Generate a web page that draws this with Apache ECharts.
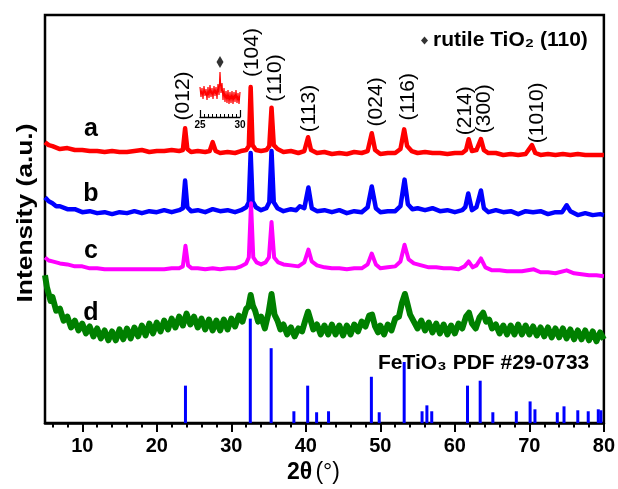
<!DOCTYPE html>
<html>
<head>
<meta charset="utf-8">
<script src="https://cdn.jsdelivr.net/npm/echarts@6/dist/echarts.min.js"></script>
<style>
html, body { margin: 0; padding: 0; background: #fff; }
#chart { width: 618px; height: 489px; }
</style>
</head>
<body>
<div id="chart"></div>
<script>
// XRD patterns, [2theta, intensity (a.u., offset)]
const traceA = [[5,285],[5.5,282],[6,281],[7,278],[8,279],[9,277],[10,277],[11,276],[12,276],[13,275],[14,276],[15,275],[16,275],[17,276],[18,277],[19,275],[20,276],[21,276],[22,277],[23,276],[23.5,277],[23.8,299],[24.1,278],[24.6,275],[25.5,276],[26.5,275],[27.1,276],[27.5,285],[27.9,276],[28.5,274],[29.5,275],[30.5,274],[31.3,276],[32.0,277],[32.35,281],[32.6,341],[32.85,282],[33.3,277],[34.0,276],[34.7,277],[35.1,281],[35.4,320],[35.7,282],[36.2,278],[37,275],[38,276],[39,274],[39.8,276],[40.3,290],[40.7,277],[41.5,274],[42.5,275],[43.5,273],[44.5,274],[45.5,273],[46.5,275],[47.5,274],[48.3,276],[48.85,294],[49.3,277],[50,273],[51,274],[52,274],[52.7,278],[53.2,298],[53.6,281],[54.2,276],[55,274],[56,275],[57,274],[58,274],[59,273],[60,274],[61,274],[61.5,277],[61.85,288],[62.3,276],[62.9,277],[63.5,288],[63.9,277],[64.5,274],[65.5,274],[66.5,272],[67.5,273],[68.5,272],[69.5,273],[70.35,282],[70.8,274],[71.5,272],[72.5,273],[73.5,272],[74.5,273],[75.5,272],[76.5,273],[77.5,272],[78.5,272],[79.5,272],[80,272]]

const traceB = [[5,229],[5.5,225],[6,223],[6.5,220],[7,220],[8,217],[9,217],[10,214],[11,215],[12,213],[13,214],[14,212],[15,214],[16,213],[17,215],[18,213],[19,215],[20,214],[21,216],[22,214],[23,216],[23.5,218],[23.8,246],[24.1,219],[24.6,215],[25.5,216],[26.5,214],[27.5,217],[28.5,215],[29.5,216],[30.5,214],[31.3,216],[32.0,219],[32.35,224],[32.6,274],[32.85,225],[33.3,219],[34.0,216],[34.7,218],[35.1,224],[35.4,276],[35.7,224],[36.2,218],[37,215],[38,217],[38.7,216],[39.2,220],[39.8,218],[40.35,239],[40.8,218],[41.5,215],[42.5,216],[43.5,214],[44.5,216],[45.5,213],[46.5,215],[47.5,214],[48.3,219],[48.85,240],[49.4,218],[50,214],[51,215],[52,215],[52.7,220],[53.25,247],[53.7,222],[54.3,217],[55,218],[56,216],[57,218],[58,215],[59,216],[60,214],[61,216],[61.4,219],[61.8,233],[62.3,216],[62.9,219],[63.5,236],[63.9,218],[64.5,214],[65.5,216],[66.5,214],[67.5,215],[68.5,212],[69.5,215],[70.5,214],[71.5,215],[72.5,212],[73.5,214],[74.4,214],[75,221],[75.5,215],[76.5,211],[77.5,213],[78.5,211],[79.5,212],[80,211]]

const traceC = [[5,168],[5.5,165],[6,164],[7,162],[8,161],[9,159],[10,159],[11,157],[12,157],[13,156],[14,156],[15,156],[16,156],[17,156],[18,156],[19,156],[20,156],[21,156],[22,157],[23,157],[23.5,159],[23.85,180],[24.2,160],[24.7,157],[25.5,157],[26.5,156],[27.5,157],[28.5,156],[29.5,157],[30.5,157],[31.3,159],[32.0,162],[32.35,168],[32.65,223],[32.95,168],[33.4,163],[34.0,161],[34.6,163],[35.05,168],[35.4,204],[35.75,168],[36.3,163],[37,161],[38,160],[39,159],[39.8,163],[40.35,176],[40.8,164],[41.5,160],[42.5,158],[43.5,157],[44.5,157],[45.5,156],[46.5,157],[47.5,157],[48.3,161],[48.85,172],[49.4,161],[50,157],[51,158],[52,159],[52.7,164],[53.25,181],[53.8,166],[54.5,162],[55.5,160],[56.5,158],[57.5,158],[58.5,157],[59.5,157],[60.5,156],[61.3,159],[61.85,164],[62.4,158],[62.9,160],[63.5,167],[64.1,158],[65,155],[66,155],[67,154],[68,154],[69,154],[70.6,156],[71.5,153],[72.5,153],[73.5,152],[75,155],[76,152],[77,151],[78,150],[79,150],[80,149]]

const traceD = [[5,150],[5.25,138],[5.5,136],[5.75,124],[6,128],[6.5,114],[7,116],[7.5,104],[8,108],[8.5,97],[9,104],[9.5,94],[10,101],[10.5,91],[11,98],[11.5,88],[12,96],[12.5,86],[13,94],[13.5,84],[14,93],[14.5,84],[15,95],[15.5,85],[16,96],[16.5,86],[17,97],[17.5,88],[18,99],[18.5,89],[19,101],[19.5,91],[20,102],[20.5,93],[21,104],[21.5,95],[22,106],[22.5,97],[23,108],[23.5,99],[24,111],[24.5,100],[25,108],[25.5,97],[26,106],[26.5,95],[27,105],[27.5,94],[28,104],[28.5,94],[29,105],[29.5,95],[30,106],[30.5,98],[31,109],[31.5,103],[32,116],[32.3,118],[32.6,130],[32.9,119],[33.2,114],[33.6,103],[34,108],[34.5,96],[35,112],[35.4,131],[35.8,110],[36.2,104],[36.6,95],[37,100],[37.5,90],[38,97],[38.5,88],[39,96],[39.5,93],[40,106],[40.3,113],[40.7,103],[41,95],[41.5,100],[42,90],[42.5,99],[43,90],[43.5,100],[44,90],[44.5,99],[45,89],[45.5,99],[46,90],[46.5,100],[47,93],[47.5,103],[48,98],[48.5,109],[48.9,110],[49.3,98],[49.7,92],[50,99],[50.5,90],[51,100],[51.5,94],[52,106],[52.5,108],[52.9,122],[53.3,131],[53.6,122],[54,110],[54.5,103],[55,96],[55.5,104],[56,94],[56.5,102],[57,92],[57.5,101],[58,91],[58.5,100],[59,90],[59.5,99],[60,91],[60.5,101],[61,96],[61.5,108],[61.9,112],[62.3,101],[62.8,96],[63.3,107],[63.8,112],[64.2,103],[64.6,105],[65,96],[65.5,100],[66,91],[66.5,99],[67,90],[67.5,99],[68,90],[68.5,100],[69,90],[69.5,99],[70,90],[70.5,98],[71,89],[71.5,97],[72,88],[72.5,97],[73,87],[73.5,96],[74,87],[74.5,96],[75,86],[75.5,95],[76,85],[76.5,94],[77,85],[77.5,94],[78,84],[78.5,93],[79,83],[79.5,92],[80,85]]

// FeTiO3 PDF #29-0733 reference lines
const pdfSticks = [[23.85,38],[32.55,106],[35.35,76],[38.4,12],[40.25,38],[41.45,11],[43.05,12],[48.8,47],[49.85,11],[53.2,62],[55.6,12],[56.25,18],[56.9,12],[61.7,38],[63.4,43],[65.1,11],[68.25,12],[70.1,22],[70.75,14],[73.75,11],[74.65,17],[76.5,13],[77.9,12],[79.25,14],[79.6,13]]

// inset: 25-30 deg of sample a
const insetTrace = [[25,30],[25.125,20],[25.25,29],[25.375,18],[25.5,31],[25.625,21],[25.75,28],[25.875,17],[26,30],[26.125,19],[26.25,32],[26.375,20],[26.5,29],[26.625,18],[26.75,31],[26.875,21],[27,30],[27.125,18],[27.25,33],[27.375,22],[27.5,45],[27.625,24],[27.75,34],[27.875,17],[28,29],[28.125,15],[28.25,26],[28.375,14],[28.5,27],[28.625,13],[28.75,25],[28.875,14],[29,26],[29.125,13],[29.25,25],[29.375,15],[29.5,27],[29.625,14],[29.75,24],[29.875,13],[30,25]]
const rutileMark = [[27.5, 55]]

// hkl labels: [text, 2theta, intensity at label foot]
const peakLabels = [['(012)',23.6,307],['(104)',32.86,351],['(110)',35.94,326],['(113)',40.49,295],['(024)',49.45,301],['(116)',53.75,307],['(214)',61.45,292],['(300)',64.0,294],['(1010)',71.1,284]]

const majorTicks = [10,20,30,40,50,60,70,80]
const minorTicks = [6,8,12,14,16,18,22,24,26,28,32,34,36,38,42,44,46,48,52,54,56,58,62,64,66,68,72,74,76,78]

const sampleNames = ['a','b','c','d']
const sampleColors = ['#ff0000','#0000ff','#ff00ff','#008000']
const sampleWidths = [4.5, 4.5, 4, 6]

const FONT = '"Liberation Sans", Arial, sans-serif'
const chart = echarts.init(document.getElementById('chart'))

const lineSeries = [traceA, traceB, traceC, traceD].map((data, i) => ({
    name: sampleNames[i],
    type: 'line',
    data,
    symbol: 'none',
    xAxisIndex: 0,
    yAxisIndex: 0,
    lineStyle: { color: sampleColors[i], width: sampleWidths[i], join: 'round' }
}))

chart.setOption({
    animation: false,
    grid: [
        { left: 45, right: 13, top: 15, bottom: 60, show: true, borderColor: '#000', borderWidth: 2.5 },
        { left: 200, top: 57, width: 40, height: 60 }
    ],
    legend: {
        data: [{ name: 'rutile TiO₂ (110)', icon: 'diamond' }],
        left: 421,
        top: 30,
        padding: 0,
        itemWidth: 7,
        itemHeight: 8,
        selectedMode: false,
        textStyle: { fontFamily: FONT, fontWeight: 'bold', fontSize: 21, color: '#000' }
    },
    xAxis: [
        {
            type: 'value', gridIndex: 0, position: 'bottom', min: 5, max: 80,
            axisLine: { show: true, lineStyle: { color: '#000', width: 2.5 } },
            axisTick: { show: true, customValues: majorTicks, length: 9, lineStyle: { color: '#000', width: 2 } },
            axisLabel: { customValues: majorTicks, color: '#000', fontFamily: FONT, fontWeight: 'bold', fontSize: 20, margin: 13 },
            splitLine: { show: false },
            name: '{b|2θ} {r|(°)}',
            nameLocation: 'middle',
            nameGap: 33,
            nameTextStyle: {
                padding: [0, 22, 0, 0],
                rich: {
                    b: { fontFamily: FONT, fontWeight: 'bold', fontSize: 23, color: '#000' },
                    r: { fontFamily: FONT, fontSize: 23, color: '#000' }
                }
            }
        },
        {
            type: 'value', gridIndex: 0, position: 'bottom', offset: 0, min: 5, max: 80,
            axisLine: { show: false },
            axisTick: { show: true, customValues: minorTicks, length: 4.5, lineStyle: { color: '#000', width: 2 } },
            axisLabel: { show: false },
            splitLine: { show: false }
        },
        {
            type: 'value', gridIndex: 1, min: 25, max: 30, interval: 5,
            axisLine: { lineStyle: { color: '#000', width: 1.3 } },
            axisTick: { inside: true, length: 7, lineStyle: { color: '#000', width: 1.2 } },
            minorTick: { show: true, splitNumber: 10, length: 3, lineStyle: { color: '#000', width: 1 } },
            axisLabel: { color: '#000', fontFamily: FONT, fontWeight: 'bold', fontSize: 10, margin: 3 },
            splitLine: { show: false }
        }
    ],
    yAxis: [
        { type: 'value', gridIndex: 0, min: 0, max: 414, axisLine: { show: false }, axisTick: { show: false }, axisLabel: { show: false }, splitLine: { show: false } },
        { type: 'value', gridIndex: 1, min: 0, max: 60, show: false, splitLine: { show: false } }
    ],
    series: [
        ...lineSeries,
        {
            name: 'PDF 29-0733',
            type: 'bar',
            xAxisIndex: 0,
            yAxisIndex: 0,
            data: pdfSticks,
            barWidth: 3,
            itemStyle: { color: '#0000ff' }
        },
        {
            name: 'inset',
            type: 'line',
            xAxisIndex: 2,
            yAxisIndex: 1,
            data: insetTrace,
            symbol: 'none',
            lineStyle: { color: '#ff0000', width: 1.2 }
        },
        {
            name: 'rutile TiO₂ (110)',
            type: 'scatter',
            xAxisIndex: 2,
            yAxisIndex: 1,
            data: rutileMark,
            symbol: 'diamond',
            symbolSize: [7, 12],
            itemStyle: { color: '#000' }
        }
    ]
})

// texts: hkl labels follow the data coordinates
const graphic = peakLabels.map(([text, x, y]) => {
    const [px, py] = chart.convertToPixel({ gridIndex: 0 }, [x, y])
    return {
        type: 'text', x: px, y: py, rotation: Math.PI / 2,
        style: { text, font: '21px ' + FONT, fill: '#000', textAlign: 'left', textVerticalAlign: 'middle' }
    }
})

const letterY = [129, 194, 251, 313]
sampleNames.forEach((name, i) => {
    graphic.push({
        type: 'text', x: 91, y: letterY[i],
        style: { text: name, font: 'bold 25px ' + FONT, fill: '#000', textAlign: 'center', textVerticalAlign: 'middle' }
    })
})

graphic.push({
    type: 'text', x: 378, y: 363,
    style: { text: 'FeTiO₃ PDF #29-0733', font: 'bold 21px ' + FONT, fill: '#000', textAlign: 'left', textVerticalAlign: 'middle' }
})

graphic.push({
    type: 'text', x: 26, y: 213, rotation: Math.PI / 2, scaleX: 1.2,
    style: { text: 'Intensity (a.u.)', font: 'bold 22px ' + FONT, fill: '#000', textAlign: 'center', textVerticalAlign: 'middle' }
})

chart.setOption({ graphic })
</script>
</body>
</html>
